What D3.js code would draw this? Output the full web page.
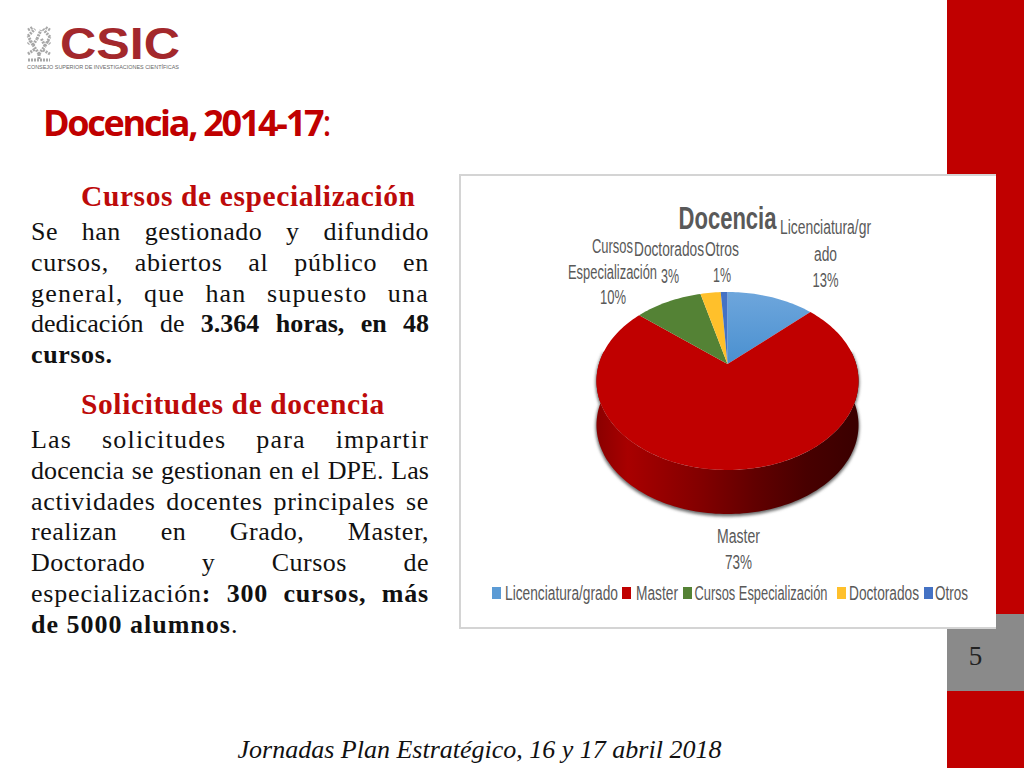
<!DOCTYPE html>
<html><head><meta charset="utf-8">
<script src="https://cdn.jsdelivr.net/npm/d3@7"></script>
<style>
html,body{margin:0;padding:0;background:#fff;}
#s{position:absolute;left:0;top:0;}
.t{position:absolute;font-family:"Liberation Serif",serif;color:#111;font-size:26px;line-height:31px;left:31px;width:398px;}
.t div{white-space:nowrap;text-align:justify;text-align-last:justify;height:30.8px;}
.t div.l{text-align-last:left;}
.h{position:absolute;font-family:"Liberation Serif",serif;font-weight:bold;color:#bd0a0a;font-size:29.5px;letter-spacing:.6px;white-space:nowrap;}
</style></head><body>
<svg id="s" width="1024" height="768"></svg>
<div class="h" style="left:81px;top:180px;">Cursos de especialización</div>
<div class="t" style="top:216px;" id="p1"></div>
<div class="h" style="left:81px;top:388px;">Solicitudes de docencia</div>
<div class="t" style="top:424px;" id="p2"></div>
<script>
const categories=["Licenciatura/grado","Master","Cursos Especialización","Doctorados","Otros"];
const shares=[13,73,10,3,1];
const sliceColors=["#5b9bd5","#c00000","#548235","#ffc02b","#4472c4"];
const para1=[["Se han gestionado y difundido"],["cursos, abiertos al público en"],["general, que han supuesto una"],["dedicación de <b>3.364 horas, en 48</b>"],["<b>cursos.</b>",1]];
const para2=[["Las solicitudes para impartir"],["docencia se gestionan en el DPE. Las"],["actividades docentes principales se"],["realizan en Grado, Master,"],["Doctorado y Cursos de"],["especialización<b>: 300 cursos, más</b>"],["<b>de 5000 alumnos</b>.",1]];
const tracking1=[.5,.7,1.2,0,.6];
const tracking2=[1.2,.1,.7,.5,.5,.8,1];
const labelTexts=[
 ["Licenciatura/gr","ado","13%"],
 ["Master","73%"],
 ["Cursos","Especialización","10%"],
 ["Doctorados","3%"],
 ["Otros","1%"]];
const labelX=[[825.5,825.5,825.5],[738.5,738.5],[612.5,612.5,613],[669,670],[722,722]];
const labelY=[[234,261,287],[543,569],[253,279,304],[256,283],[256,282]];
const labelW=[[91,23,26],[43,27],[41,89,26],[70,18],[34,18]];
const legendSwatchX=[492,622,683,837,924];
const legendTextX=[505,636,694.5,849,935];
const legendTextW=[113,42,133,70,33];

[["#p1",para1,tracking1],["#p2",para2,tracking2]].forEach(([id,rows,tr])=>{
 d3.select(id).selectAll("div").data(rows).join("div")
  .attr("class",d=>d[1]?"l":null).style("letter-spacing",(d,i)=>tr[i]+"px").html(d=>d[0]);
});

const svg=d3.select("#s");
const defs=svg.append("defs");
const g1=defs.append("linearGradient").attr("id","side");
[[0,"#8a0000"],[.12,"#a80000"],[.4,"#820000"],[.6,"#620000"],[.8,"#480000"],[1,"#3a0000"]].forEach(([o,c])=>g1.append("stop").attr("offset",o).attr("stop-color",c));
const g2=defs.append("linearGradient").attr("id","lic").attr("x1",0).attr("y1",0).attr("x2",0).attr("y2",1);
g2.append("stop").attr("offset",0).attr("stop-color","#6ea6dc");
g2.append("stop").attr("offset",1).attr("stop-color","#4a90d0");
const blur=defs.append("filter").attr("id","b").attr("x","-10%").attr("y","-10%").attr("width","120%").attr("height","120%");
blur.append("feGaussianBlur").attr("stdDeviation",1.5);

// page furniture
svg.append("rect").attr("x",947).attr("y",0).attr("width",77).attr("height",768).attr("fill","#c00000");
svg.append("rect").attr("x",947).attr("y",614).attr("width",77).attr("height",77).attr("fill","#8a8a8a");
svg.append("text").attr("x",975.5).attr("y",665).attr("text-anchor","middle").attr("font-family","Liberation Serif").attr("font-size",27).attr("fill","#222").text("5");
svg.append("text").attr("x",479.5).attr("y",758).attr("text-anchor","middle").attr("font-family","Liberation Serif").attr("font-style","italic").attr("font-size",26).attr("fill","#111").text("Jornadas Plan Estratégico, 16 y 17 abril 2018");
svg.append("text").attr("x",43).attr("y",136).attr("font-family","Open Sans").attr("font-weight",700).attr("font-size",36).attr("letter-spacing",-2.3).attr("fill","#c00000").html('Docencia, 2014-17<tspan font-weight="400">:</tspan>');

// logo
const logo=svg.append("g");
const tree=[[0,12,-6,3],[0,12,6,4],[-6,3,-11,-6],[-6,3,-2,-3],[6,4,11,-5],[6,4,2,-4],[-11,-6,-4,-13],[11,-5,4,-13],[0,12,0,18],[-11,18,11,18],[-11,12,-4,7],[11,12,4,8],[-2,-3,2,-12],[-11,-12,-6,-15],[11,-12,6,-15],[-8,-1,-11,2],[8,-1,11,2]];
logo.append("g").attr("transform","translate(39,42)").selectAll("line").data(tree).join("line")
 .attr("x1",d=>d[0]).attr("y1",d=>d[1]).attr("x2",d=>d[2]).attr("y2",d=>d[3]).attr("stroke","#a8a8a8").attr("stroke-width",3).attr("stroke-dasharray","2 1");
logo.append("text").attr("x",60).attr("y",59).attr("font-family","Liberation Sans").attr("font-weight",700).attr("font-size",44).attr("fill","#a3282c").attr("textLength",120).attr("lengthAdjust","spacingAndGlyphs").text("CSIC");
logo.append("text").attr("x",27).attr("y",69).attr("font-family","Liberation Sans").attr("font-size",6).attr("fill","#666").attr("textLength",152).attr("lengthAdjust","spacingAndGlyphs").text("CONSEJO SUPERIOR DE INVESTIGACIONES CIENTÍFICAS");

// chart panel
svg.append("rect").attr("x",459).attr("y",174).attr("width",537).attr("height",455).attr("fill","#d4d4d4");
svg.append("rect").attr("x",461).attr("y",176).attr("width",535).attr("height",451).attr("fill","#fff");

// perspective pie
const k=0.191;
const sx=d3.scaleLinear().domain([-1,1]).range([727.5-128.6,727.5+128.6]);
const sy=d3.scaleLinear().domain([-1,1]).range([364+85.75,364-85.75]);
const project=(a,r=1)=>{const x=r*Math.sin(a),y=r*Math.cos(a),w=1+k*y;return [sx(x/w),sy(y/w)];};
const pie=d3.pie().sort(null)(shares);
const line=d3.line();
const arcPts=(a0,a1)=>d3.range(0,1.0001,1/Math.max(8,Math.ceil((a1-a0)*40))).map(t=>project(a0+(a1-a0)*t));
const depth=44;
const front=[Math.PI/2-0.15,3*Math.PI/2+0.15];
const fr=arcPts(front[0],front[1]);
const frBottom=fr.map(p=>[p[0],p[1]+depth]).reverse();
svg.append("path").attr("d",line(fr.concat(frBottom))+"Z").attr("fill","#666").attr("stroke","#777").attr("stroke-width",2).attr("filter","url(#b)").attr("transform","translate(0,1.5)");
svg.append("path").attr("d",line(fr.concat(frBottom))+"Z").attr("fill","url(#side)");
svg.selectAll("path.slice").data(pie).join("path").attr("class","slice")
 .attr("d",d=>line([project(0,0),...arcPts(d.startAngle,d.endAngle)])+"Z")
 .attr("fill",(d,i)=>i===0?"url(#lic)":sliceColors[i]);

// labels
const fam="Liberation Sans";
const lab=svg.append("g").attr("font-family",fam).attr("fill","#595959").attr("font-size",20).attr("text-anchor","middle");
labelTexts.forEach((rows,i)=>rows.forEach((t,j)=>lab.append("text").attr("x",labelX[i][j]).attr("y",labelY[i][j]).attr("textLength",labelW[i][j]).attr("lengthAdjust","spacingAndGlyphs").text(t)));
svg.append("text").attr("x",678.5).attr("y",229).attr("font-family",fam).attr("font-weight",700).attr("font-size",31).attr("fill","#595959").attr("textLength",98).attr("lengthAdjust","spacingAndGlyphs").text("Docencia");

// legend
const lg=svg.selectAll("g.leg").data(categories).join("g").attr("class","leg");
lg.append("rect").attr("x",(d,i)=>legendSwatchX[i]).attr("y",587).attr("width",9).attr("height",12).attr("fill",(d,i)=>sliceColors[i]);
lg.append("text").attr("x",(d,i)=>legendTextX[i]).attr("y",600).attr("font-family",fam).attr("font-size",20).attr("fill","#595959").attr("textLength",(d,i)=>legendTextW[i]).attr("lengthAdjust","spacingAndGlyphs").text(d=>d);
</script></body></html>
